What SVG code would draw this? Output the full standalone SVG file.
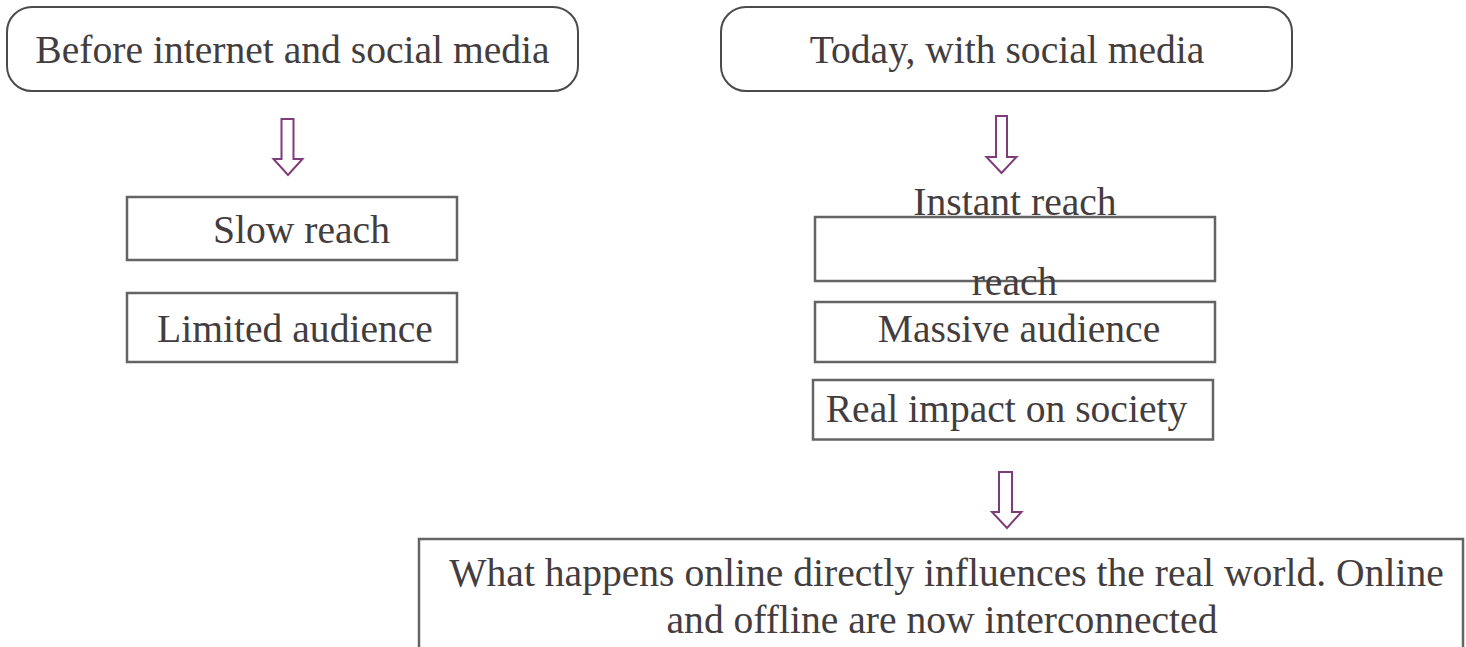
<svg xmlns="http://www.w3.org/2000/svg" width="1466" height="647" viewBox="0 0 1466 647">
<style>
  .rbox { fill: #ffffff; stroke: #4d4a4a; stroke-width: 2; }
  .box { fill: #ffffff; stroke: #646464; stroke-width: 2.5; }
  .lbl { font-family: "Liberation Serif", "Times New Roman", serif; font-size: 39.6px; fill: #433d3e; text-anchor: middle; }
  .arrow { fill: #ffffff; stroke: #7e3d78; stroke-width: 2; stroke-linejoin: miter; }
</style>
<rect x="0" y="0" width="1466" height="647" fill="#ffffff"/>

<g id="before">
  <rect class="rbox" x="7" y="7" width="571" height="84" rx="25" ry="25"/>
  <text class="lbl" x="292.5" y="63">Before internet and social media</text>
</g>

<g id="today">
  <rect class="rbox" x="721" y="7" width="571" height="84" rx="25" ry="25"/>
  <text class="lbl" x="1007" y="63">Today, with social media</text>
</g>

<g id="slow-reach">
  <rect class="box" x="127" y="197" width="330" height="63"/>
  <text class="lbl" x="301.5" y="243">Slow reach</text>
</g>

<g id="limited-audience">
  <rect class="box" x="127" y="293" width="330" height="69"/>
  <text class="lbl" x="295" y="342">Limited audience</text>
</g>

<g id="instant-reach">
  <rect class="box" x="815" y="217" width="400" height="64"/>
  <text class="lbl" x="1015" y="215">Instant reach</text>
  <text class="lbl" x="1014.5" y="295">reach</text>
</g>

<g id="massive-audience">
  <rect class="box" x="815" y="302" width="400" height="60"/>
  <text class="lbl" x="1019" y="342">Massive audience</text>
</g>

<g id="real-impact">
  <rect class="box" x="813" y="380" width="400" height="59.5"/>
  <text class="lbl" x="1006.5" y="422">Real impact on society</text>
</g>

<g id="conclusion">
  <rect class="box" x="419" y="539" width="1044" height="130"/>
  <text class="lbl" x="946.5" y="586">What happens online directly influences the real world. Online</text>
  <text class="lbl" x="942" y="633">and offline are now interconnected</text>
</g>

<g id="connectors">
  <polygon class="arrow" points="281.5,119 293.5,119 293.5,159 302.5,159 288,175 273.5,159 281.5,159"/>
  <polygon class="arrow" points="996,116 1007,116 1007,157 1016.5,157 1001.5,173 986.5,157 996,157"/>
  <polygon class="arrow" points="999,472 1012,472 1012,512 1021.5,512 1007,528 992,512 999,512"/>
</g>
</svg>
